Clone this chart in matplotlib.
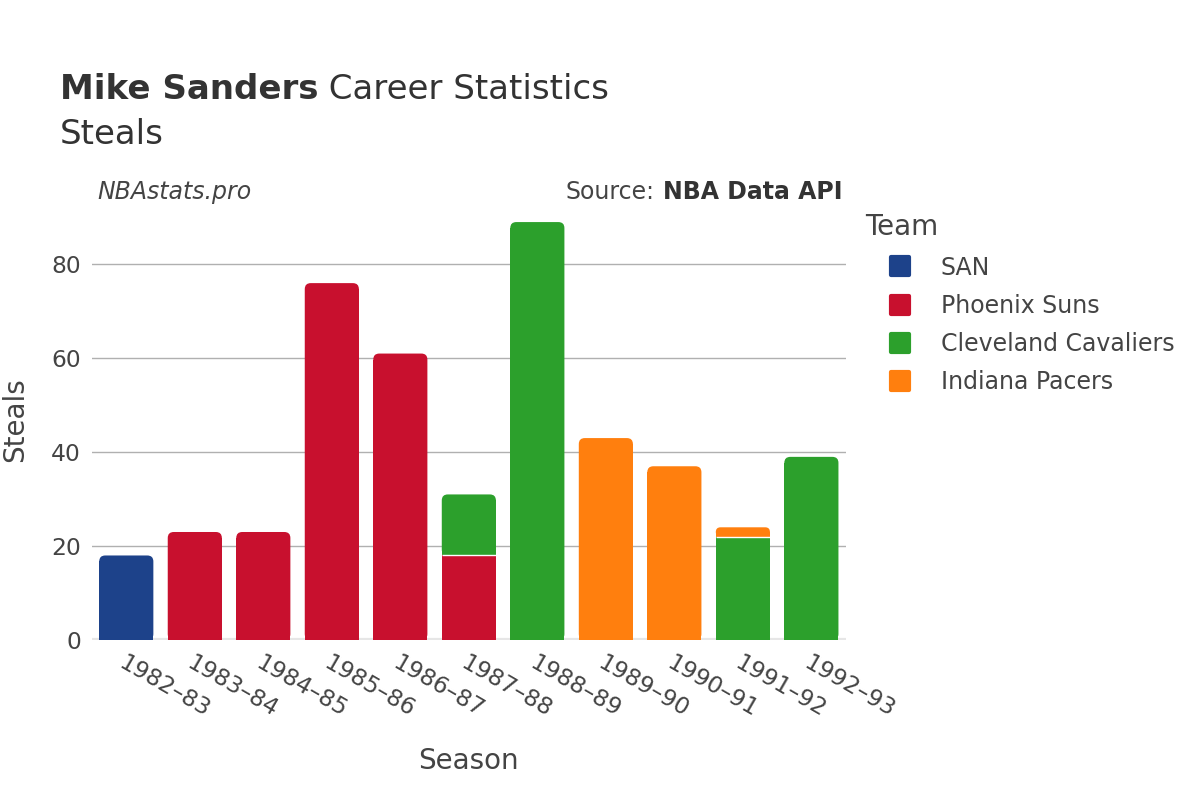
import numpy as np
import matplotlib.pyplot as plt
from matplotlib.lines import Line2D
from matplotlib.markers import MarkerStyle
from matplotlib.patches import FancyBboxPatch

seasons = ['1982–83', '1983–84', '1984–85', '1985–86', '1986–87', '1987–88',
           '1988–89', '1989–90', '1990–91', '1991–92', '1992–93']
teams = ['SAN', 'Phoenix Suns', 'Cleveland Cavaliers', 'Indiana Pacers']
colors = ['#1d428a', '#c8102e', '#2ca02c', '#ff7f0e']

# steals per team per season (stacked in team order)
san = [18, 0, 0, 0, 0, 0, 0, 0, 0, 0, 0]
phx = [0, 23, 23, 76, 61, 18, 0, 0, 0, 0, 0]
cle = [0, 0, 0, 0, 0, 13, 89, 0, 0, 22, 39]
ind = [0, 0, 0, 0, 0, 0, 0, 43, 37, 2, 0]
values = [san, phx, cle, ind]

text_col = '#444444'
plt.rcParams['font.family'] = ['DejaVu Sans']

fig = plt.figure(figsize=(12, 8), dpi=100)
ax = fig.add_axes([0.0767, 0.2, 0.628, 0.55])

x = np.arange(len(seasons))
ax.set_xlim(-0.5, len(seasons) - 0.5)
ax.set_ylim(0, 93.7)

# pixel size of one data unit, used for rounding the bar tops
p0 = ax.transData.transform((0, 0))
p1 = ax.transData.transform((1, 1))
px_x, px_y = p1 - p0
r_px = 6
rx = r_px / px_x
aspect = (r_px / px_y) / rx

totals = np.sum(values, axis=0)
bottom = np.zeros(len(seasons))
for team, col, vals in zip(teams, colors, values):
    vals = np.array(vals, dtype=float)
    bars = ax.bar(x, vals, width=0.79, bottom=bottom, color=col,
                  linewidth=0, zorder=3)
    for i, rect in enumerate(bars):
        h = vals[i]
        if h <= 0 or bottom[i] + h < totals[i]:
            continue
        # top of the stack: rounded corners on top
        bx, by, bw = rect.get_x(), rect.get_y(), rect.get_width()
        rs = min(rx, 0.5 * h / aspect)
        rect.set_height(max(h - rs * aspect, 0))
        ax.add_patch(FancyBboxPatch((bx, by), bw, h,
                                    boxstyle=f'round,pad=0,rounding_size={rs}',
                                    mutation_aspect=aspect, facecolor=col,
                                    linewidth=0, zorder=3))
    bottom += vals

# white separators between stacked segments
running = np.zeros(len(seasons))
for vals in values[:-1]:
    running += np.array(vals, dtype=float)
    for i in range(len(seasons)):
        if 0 < running[i] < totals[i]:
            ax.hlines(running[i], x[i] - 0.395, x[i] + 0.395, color='white',
                      linewidth=1, zorder=4)

ax.set_yticks([0, 20, 40, 60, 80])
ax.grid(axis='y', color='#b0b0b0', linewidth=1, zorder=0)
ax.axhline(0, color='#e6e6e6', linewidth=3, zorder=2)
for s in ax.spines.values():
    s.set_visible(False)
ax.tick_params(axis='both', length=0, labelsize=16.8, colors=text_col, pad=8)
ax.set_xticks(x)
ax.set_xticklabels(seasons, rotation=-30, ha='left', va='top', rotation_mode='anchor')
ax.tick_params(axis='x', pad=8)

ax.set_xlabel('Season', fontsize=20, color=text_col, labelpad=18)
ax.set_ylabel('Steals', fontsize=20, color=text_col)
ax.yaxis.set_label_coords(-0.083, 0.5)

t1 = fig.text(0.05, 0.868, 'Mike Sanders', fontsize=24.5, weight='bold',
              color='#333333', va='bottom')
ax.annotate(' Career Statistics', xy=(1, 0), xycoords=t1, fontsize=24.5,
            color='#333333', va='bottom', ha='left')
fig.text(0.05, 0.82, 'Steals', fontsize=24.5, color='#333333', va='baseline')
fig.text(0.081, 0.751, 'NBAstats.pro', fontsize=17, style='italic', color=text_col, va='baseline')
t2 = fig.text(0.702, 0.751, 'NBA Data API', fontsize=17, weight='bold', color='#333333',
              va='baseline', ha='right')
ax.annotate('Source:', xy=(0, 0), xycoords=t2, xytext=(-6, 0), textcoords='offset points',
            fontsize=17, color=text_col, va='bottom', ha='right')

mk = MarkerStyle('s', joinstyle='round')
handles = [Line2D([], [], marker=mk, linestyle='none', markersize=13,
                  markeredgewidth=3, markerfacecolor=c, markeredgecolor=c) for c in colors]
leg = fig.legend(handles, teams, loc='upper left', bbox_to_anchor=(0.713, 0.745),
                 frameon=False, fontsize=17, title='Team', title_fontsize=20,
                 labelcolor=text_col, handlelength=3.0, handletextpad=0.2,
                 labelspacing=0.6, borderaxespad=0)
leg._legend_box.align = 'left'
leg.get_title().set_color(text_col)

fig.savefig('out.png', dpi=100)
